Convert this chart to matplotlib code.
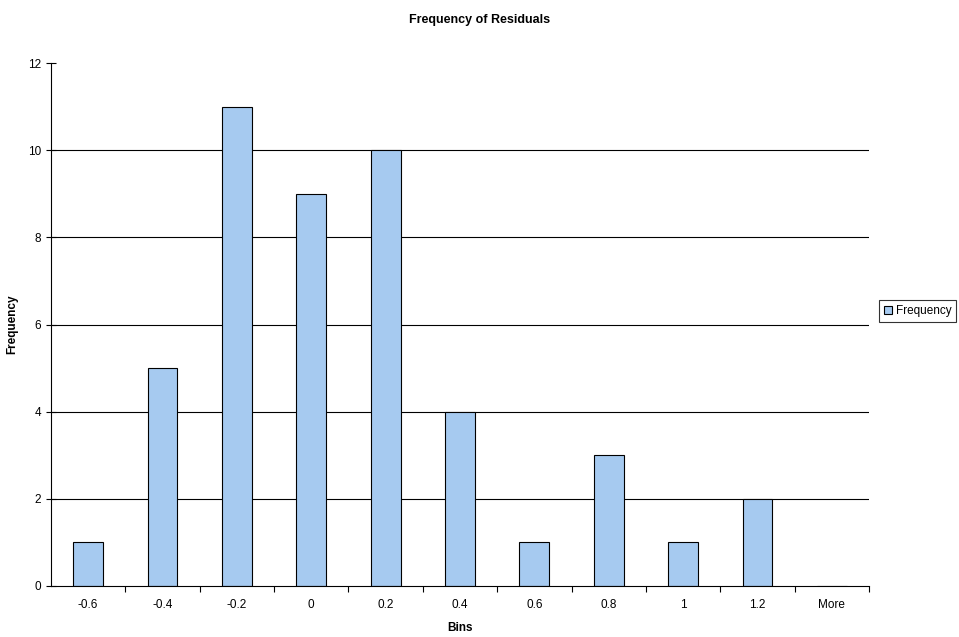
import matplotlib.pyplot as plt
import numpy as np

bins = ['-0.6', '-0.4', '-0.2', '0', '0.2', '0.4', '0.6', '0.8', '1', '1.2', 'More']
frequency = [1, 5, 11, 9, 10, 4, 1, 3, 1, 2, 0]
y_ticks = [0, 2, 4, 6, 8, 10, 12]

plt.rcParams['font.family'] = ['Liberation Sans', 'DejaVu Sans']

fig = plt.figure(figsize=(9.59, 6.37), dpi=100)
ax = fig.add_axes([51 / 959, 51 / 637, 818 / 959, 523 / 637])

x = np.arange(len(bins))
for g in y_ticks[1:-1]:
    ax.axhline(g, color='black', linewidth=0.8, zorder=1)
bars = ax.bar(x, frequency, width=0.4, color='#a6caf0', edgecolor='black',
              linewidth=0.8, zorder=2, label='Frequency')

ax.set_xlim(-0.5, len(bins) - 0.5)
ax.set_ylim(0, 12)
ax.set_yticks(y_ticks)
ax.tick_params(axis='y', direction='inout', length=7, width=0.8, labelsize=8.5)
ax.set_xticks(x)
ax.set_xticklabels(bins)
ax.tick_params(axis='x', which='major', length=0, pad=9, labelsize=8.5)
ax.set_xticks(np.arange(0.5, len(bins) - 0.4, 1), minor=True)
ax.tick_params(axis='x', which='minor', direction='out', length=4, width=0.8)

for s in ['top', 'right']:
    ax.spines[s].set_visible(False)
for s in ['left', 'bottom']:
    ax.spines[s].set_linewidth(0.8)

ax.set_xlabel('Bins', fontsize=8.5, fontweight='bold', labelpad=8)
ax.set_ylabel('Frequency', fontsize=8.5, fontweight='bold', labelpad=7)
fig.suptitle('Frequency of Residuals', fontsize=9, fontweight='bold', y=0.978)

leg = ax.legend(loc='center left', bbox_to_anchor=(879 / 959, 326 / 637),
                bbox_transform=fig.transFigure, fontsize=8.5, frameon=True,
                fancybox=False, edgecolor='black', handlelength=0.7,
                handleheight=0.7, handletextpad=0.3, borderpad=0.4,
                borderaxespad=0)
leg.get_frame().set_linewidth(0.8)

fig.savefig('out.png', dpi=100)
